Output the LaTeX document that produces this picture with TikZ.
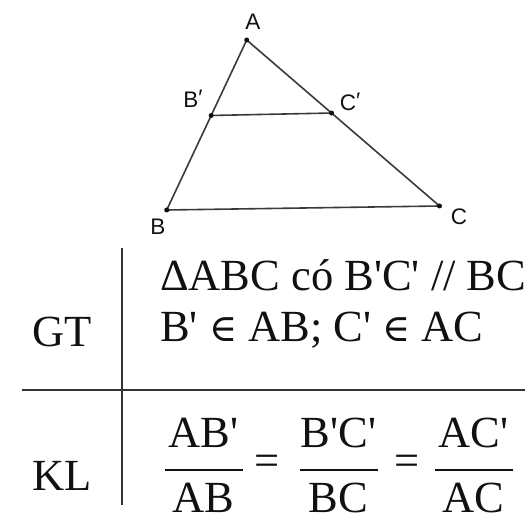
\documentclass[tikz,border=0pt]{standalone}
\usepackage{fontspec}
\setmainfont{Liberation Serif}
\newfontfamily\lblfont{Liberation Sans}
\newfontfamily\elemfont{DejaVu Serif}
\usepackage{tikz}
\usetikzlibrary{positioning,calc}
\definecolor{ink}{HTML}{111111}
\definecolor{edge}{HTML}{3A3A3A}
\definecolor{rule}{HTML}{333333}
\tikzset{
  side/.style  = {draw=edge, line width=1.6pt},
  pt/.style    = {fill=ink},
  vlbl/.style  = {font=\lblfont\fontsize{22.5}{24}\selectfont, text=ink, inner sep=0pt},
  rulel/.style = {draw=rule, line width=1.5pt},
  big/.style   = {font=\fontsize{44.5}{48}\selectfont, text=ink, inner sep=0pt},
  fbar/.style  = {draw=ink, line width=1.6pt},
}
\newcommand{\pq}{\textquotesingle}
\newcommand{\elem}{{\elemfont\fontsize{38}{40}\selectfont ∈}}

\begin{document}
\begin{tikzpicture}[x=1pt,y=-1pt]
  \useasboundingbox (0,0) rectangle (525,521);
  % triangle
  \coordinate (A)  at (246.7,40);
  \coordinate (B)  at (166.7,210);
  \coordinate (C)  at (439.5,206);
  \coordinate (Bp) at ($(A)!0.444!(B)$);
  \coordinate (Cp) at ($(A)!0.44!(C)$);
  \draw[side] (A) -- (B) -- (C) -- cycle;
  \draw[side] (Bp) -- (Cp);
  \foreach \p in {A,B,C,Bp,Cp}
    \fill[pt] (\p) circle (2.5);
  \node[vlbl] (lA)  at (253,22)  {A};
  \node[vlbl] (lB)  at (158,227) {B};
  \node[vlbl] (lC)  at (459,217) {C};
  \node[vlbl] (lBp) at (193,99)  {B\raisebox{2pt}{′}};
  \node[vlbl] (lCp) at (350,102) {C\raisebox{2pt}{′}};
  % table
  \coordinate (vt) at (122,248);
  \coordinate (vb) at (122,505);
  \coordinate (hl) at (22,390);
  \coordinate (hr) at (525,390);
  \draw[rulel] (vt) -- (vb);
  \draw[rulel] (hl) -- (hr);
  \node[big,anchor=base] (gt) at (62,347) {GT};
  \node[big,anchor=base] (kl) at (62,490) {KL};
  \node[big,anchor=base west] (g1) at (160,291) {ΔABC có B\pq C\pq{} // BC};
  \node[big,anchor=base west] (g2) at (160,342) {B\pq{} \elem{} AB; C\pq{} \elem{} AC};
  % ratios
  \foreach \cx/\nu/\de [count=\i] in {203.5/AB\pq/AB, 338.5/B\pq C\pq/BC, 473.5/AC\pq/AC}{
    \node[big,anchor=base] (n\i) at (\cx,447) {\nu};
    \node[big,anchor=base,text depth=0pt] (d\i) at (\cx,512) {\de};
    \draw[fbar] (\cx-39,470) -- (\cx+39,470);}
  \node[big] (e1) at (267,465) {=};
  \node[big] (e2) at (407,465) {=};
\end{tikzpicture}
\end{document}
